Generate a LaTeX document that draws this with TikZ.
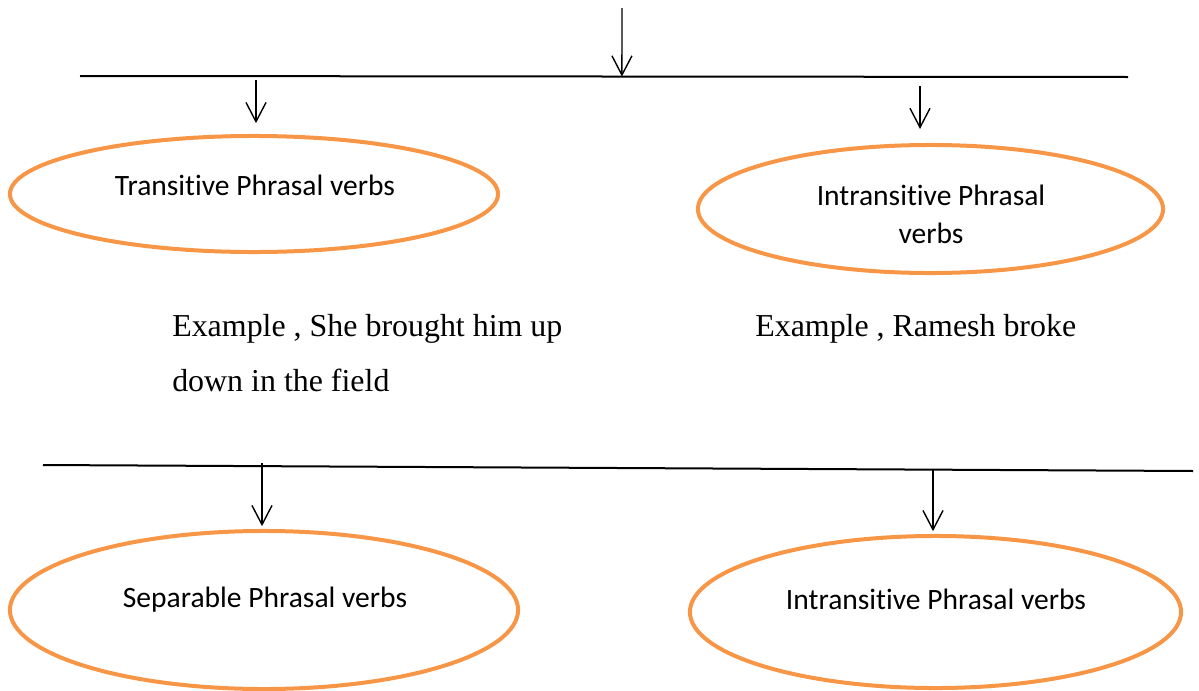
\documentclass[tikz,border=0pt]{standalone}
\usepackage{fontspec}
\setmainfont{Liberation Serif}
\newfontfamily\calib[Ligatures=NoCommon]{Carlito}
\usetikzlibrary{shapes.geometric,arrows.meta,calc}
\definecolor{ovalorange}{RGB}{247,150,70}

\tikzset{
  oval/.style={ellipse, draw=ovalorange, line width=0.1cm, inner sep=0pt, outer sep=0pt},
  ovaltext/.style={font=\calib\fontsize{21pt}{27pt}\selectfont, align=center, inner sep=0pt},
  extext/.style={font=\fontsize{22.7pt}{38.5pt}\selectfont, inner sep=0pt, anchor=base west},
  down/.style={-{Straight Barb[length=0.48cm,width=0.5cm]}, line width=0.035cm},
  bar/.style={line width=0.05cm}
}

\begin{document}
\begin{tikzpicture}[x=0.025cm, y=-0.025cm]
    \useasboundingbox (0,0) rectangle (1199,691);
    % the two bars
    \coordinate (b1l) at (80,76);
    \coordinate (b1r) at (1128,77);
    \coordinate (b2l) at (43,465);
    \coordinate (b2r) at (1193,471);
    \draw[bar] (b1l) -- (b1r);
    \draw[bar] (b2l) -- (b2r);
    % ovals
    \node[oval, minimum width=12.2cm, minimum height=2.9cm] (trans) at (254,194) {};
    \node[oval, minimum width=11.625cm, minimum height=3.2cm] (intrans) at (930.5,209) {};
    \node[oval, minimum width=12.7cm, minimum height=3.95cm] (separ) at (264,610) {};
    \node[oval, minimum width=12.275cm, minimum height=3.8cm] (intrans2) at (935.5,612) {};
    \node[ovaltext] (transtxt) at (255,185) {Transitive Phrasal verbs};
    \node[ovaltext] (intranstxt) at (931,214) {Intransitive Phrasal\\verbs};
    \node[ovaltext] (separtxt) at (265,600) {Separable Phrasal verbs};
    \node[ovaltext] (intrans2txt) at (936,599) {Intransitive Phrasal verbs};
    % examples
    \node[extext] (ex1) at (172,336) {Example , She brought him up};
    \node[extext] (ex1b) at (172,391) {down in the field};
    \node[extext] (ex2) at (755,336) {Example , Ramesh broke};
    % arrows
    \coordinate (top) at (622,8);
    \coordinate (s1) at (256,80);
    \coordinate (s2) at (920,86);
    \coordinate (s3) at (262,463);
    \coordinate (s4) at (933,470);
    \draw[down] (top) -- ($(b1l)!(top)!(b1r)$);
    \draw[down, shorten >=0.32cm] (s1) -- (s1 |- trans.north);
    \draw[down, shorten >=0.4cm] (s2) -- (s2 |- intrans.north);
    \draw[down, shorten >=0.12cm] (s3) -- (s3 |- separ.north);
    \draw[down, shorten >=0.12cm] (s4) -- (s4 |- intrans2.north);
\end{tikzpicture}
\end{document}
